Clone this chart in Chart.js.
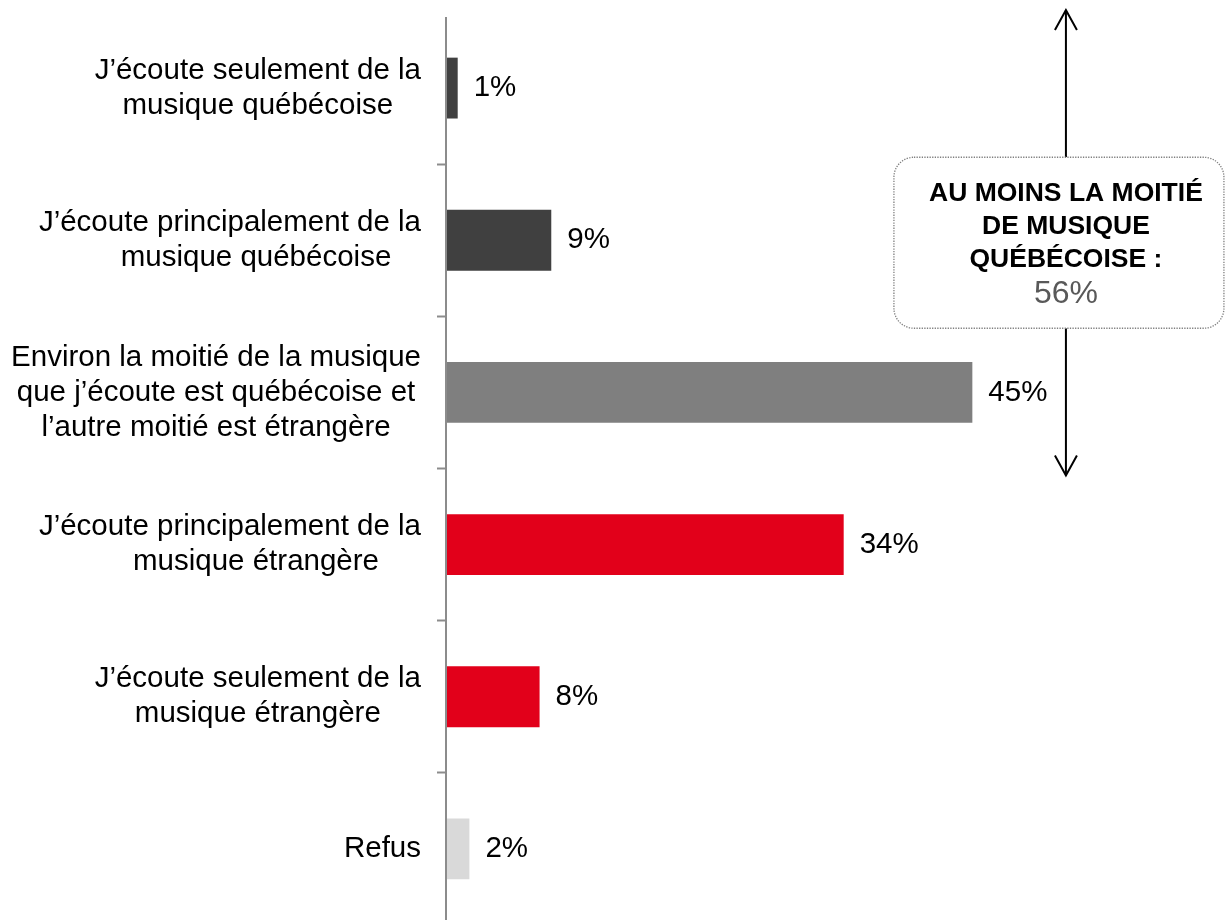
<!DOCTYPE html>
<html lang="fr">
  <head>
    <meta charset="UTF-8" />
    <title>Écoute de musique québécoise</title>
    <script src="https://cdn.jsdelivr.net/npm/chart.js"></script>
    <style>
      body {
        margin: 0;
        background: #ffffff;
        overflow: hidden;
      }
    </style>
  </head>
  <body>
    <canvas id="chart" width="1225" height="930"></canvas>

    <script>
      // categories, one array of lines per label
      const categories = [
        ["J’écoute seulement de la", "musique québécoise"],
        ["J’écoute principalement de la", "musique québécoise"],
        [
          "Environ la moitié de la musique",
          "que j’écoute est québécoise et",
          "l’autre moitié est étrangère",
        ],
        ["J’écoute principalement de la", "musique étrangère"],
        ["J’écoute seulement de la", "musique étrangère"],
        ["Refus"],
      ];
      const values = [1, 9, 45, 34, 8, 2];
      const barColors = ["#404040", "#404040", "#7f7f7f", "#e2001a", "#e2001a", "#d9d9d9"];

      // callout on the right
      const calloutTitle = ["AU MOINS LA MOITIÉ", "DE MUSIQUE", "QUÉBÉCOISE :"];
      const calloutValue = "56%";
      const calloutAt = 53; // x position of the arrow, in %

      const FONT = '"Liberation Sans", Arial, sans-serif';
      const AXIS_GRAY = "#8c8c8c";

      // vertical axis line, starting a little below the top of the plot
      const axisLine = {
        id: "axisLine",
        afterDatasetsDraw(chart) {
          const { ctx, chartArea } = chart;
          ctx.save();
          ctx.strokeStyle = AXIS_GRAY;
          ctx.lineWidth = 2;
          ctx.beginPath();
          ctx.moveTo(chartArea.left, chartArea.top + 5);
          ctx.lineTo(chartArea.left, chartArea.bottom);
          ctx.stroke();
          ctx.restore();
        },
      };

      // category labels: a right-aligned box of limited width; lines that
      // fit are centred in it, wider lines share a centre flush with the axis
      const categoryLabels = {
        id: "categoryLabels",
        afterDraw(chart) {
          const ctx = chart.ctx;
          const y = chart.scales.y;
          const rightEdge = chart.chartArea.left - 25;
          const maxBox = 330;
          const lineH = 35;
          ctx.save();
          ctx.font = "29.5px " + FONT;
          ctx.fillStyle = "#000000";
          ctx.textAlign = "center";
          ctx.textBaseline = "middle";
          categories.forEach((lines, i) => {
            const cy = y.getPixelForValue(i);
            const top = cy - ((lines.length - 1) * lineH) / 2;
            const widths = lines.map((l) => ctx.measureText(l).width);
            const widest = Math.max(...widths);
            const box = Math.min(maxBox, widest);
            const boxCentre = rightEdge - box / 2;
            const wideCentre = rightEdge - widest / 2;
            lines.forEach((line, j) => {
              const cx = widths[j] > box ? wideCentre : boxCentre;
              ctx.fillText(line, cx, top + j * lineH);
            });
          });
          ctx.restore();
        },
      };

      // value labels to the right of each bar
      const valueLabels = {
        id: "valueLabels",
        afterDatasetsDraw(chart) {
          const ctx = chart.ctx;
          const meta = chart.getDatasetMeta(0);
          ctx.save();
          ctx.font = "29.5px " + FONT;
          ctx.fillStyle = "#000000";
          ctx.textAlign = "left";
          ctx.textBaseline = "middle";
          meta.data.forEach((bar, i) => {
            ctx.fillText(values[i] + "%", bar.x + 16, bar.y);
          });
          ctx.restore();
        },
      };

      function arrowHead(ctx, x, y, dir) {
        ctx.beginPath();
        ctx.moveTo(x - 11, y + dir * 20);
        ctx.lineTo(x, y);
        ctx.lineTo(x + 11, y + dir * 20);
        ctx.stroke();
      }

      // double arrow with the rounded dotted box
      const callout = {
        id: "callout",
        afterDraw(chart) {
          const ctx = chart.ctx;
          const x = chart.scales.x.getPixelForValue(calloutAt);
          const ys = chart.scales.y;
          const cy = ys.getPixelForValue(1) + 2;
          const boxTop = cy - 85;
          const boxBottom = cy + 86;
          const boxLeft = x - 172;
          const boxRight = x + 158;
          const arrowTop = chart.chartArea.top - 2;
          const arrowBottom = (ys.getPixelForValue(2) + ys.getPixelForValue(3)) / 2 + 7;

          ctx.save();
          ctx.strokeStyle = "#000000";
          ctx.lineWidth = 2;
          ctx.beginPath();
          ctx.moveTo(x, arrowTop);
          ctx.lineTo(x, boxTop);
          ctx.moveTo(x, boxBottom);
          ctx.lineTo(x, arrowBottom);
          ctx.stroke();
          arrowHead(ctx, x, arrowTop, 1);
          arrowHead(ctx, x, arrowBottom, -1);

          ctx.beginPath();
          ctx.roundRect(boxLeft, boxTop, boxRight - boxLeft, boxBottom - boxTop, 20);
          ctx.fillStyle = "#ffffff";
          ctx.fill();
          ctx.setLineDash([1.3, 1.3]);
          ctx.lineWidth = 1.3;
          ctx.strokeStyle = "#7f7f7f";
          ctx.stroke();
          ctx.setLineDash([]);

          ctx.textAlign = "center";
          ctx.textBaseline = "middle";
          ctx.fillStyle = "#000000";
          ctx.font = "bold 26.5px " + FONT;
          calloutTitle.forEach((line, j) => {
            ctx.fillText(line, x, cy - 49 + j * 33);
          });
          ctx.font = "32px " + FONT;
          ctx.fillStyle = "#595959";
          ctx.fillText(calloutValue, x, cy + 52);
          ctx.restore();
        },
      };

      new Chart(document.getElementById("chart"), {
        type: "bar",
        data: {
          labels: categories,
          datasets: [
            {
              data: values,
              backgroundColor: barColors,
              borderWidth: 0,
              barPercentage: 0.4,
              categoryPercentage: 1,
            },
          ],
        },
        options: {
          indexAxis: "y",
          responsive: false,
          animation: false,
          layout: { padding: { top: 12, bottom: 5, left: 0, right: 0 } },
          plugins: {
            legend: { display: false },
            tooltip: { enabled: false },
          },
          scales: {
            x: {
              display: false,
              min: 0,
              max: 66.6,
            },
            y: {
              ticks: { display: false },
              grid: {
                offset: true,
                drawOnChartArea: false,
                tickLength: 9,
                tickWidth: 2,
                tickColor: (c) => (c.index === 0 ? "rgba(0,0,0,0)" : AXIS_GRAY),
              },
              border: { display: false },
              afterFit(scale) {
                scale.width = 446;
              },
            },
          },
        },
        plugins: [axisLine, valueLabels, categoryLabels, callout],
      });
    </script>
  </body>
</html>
